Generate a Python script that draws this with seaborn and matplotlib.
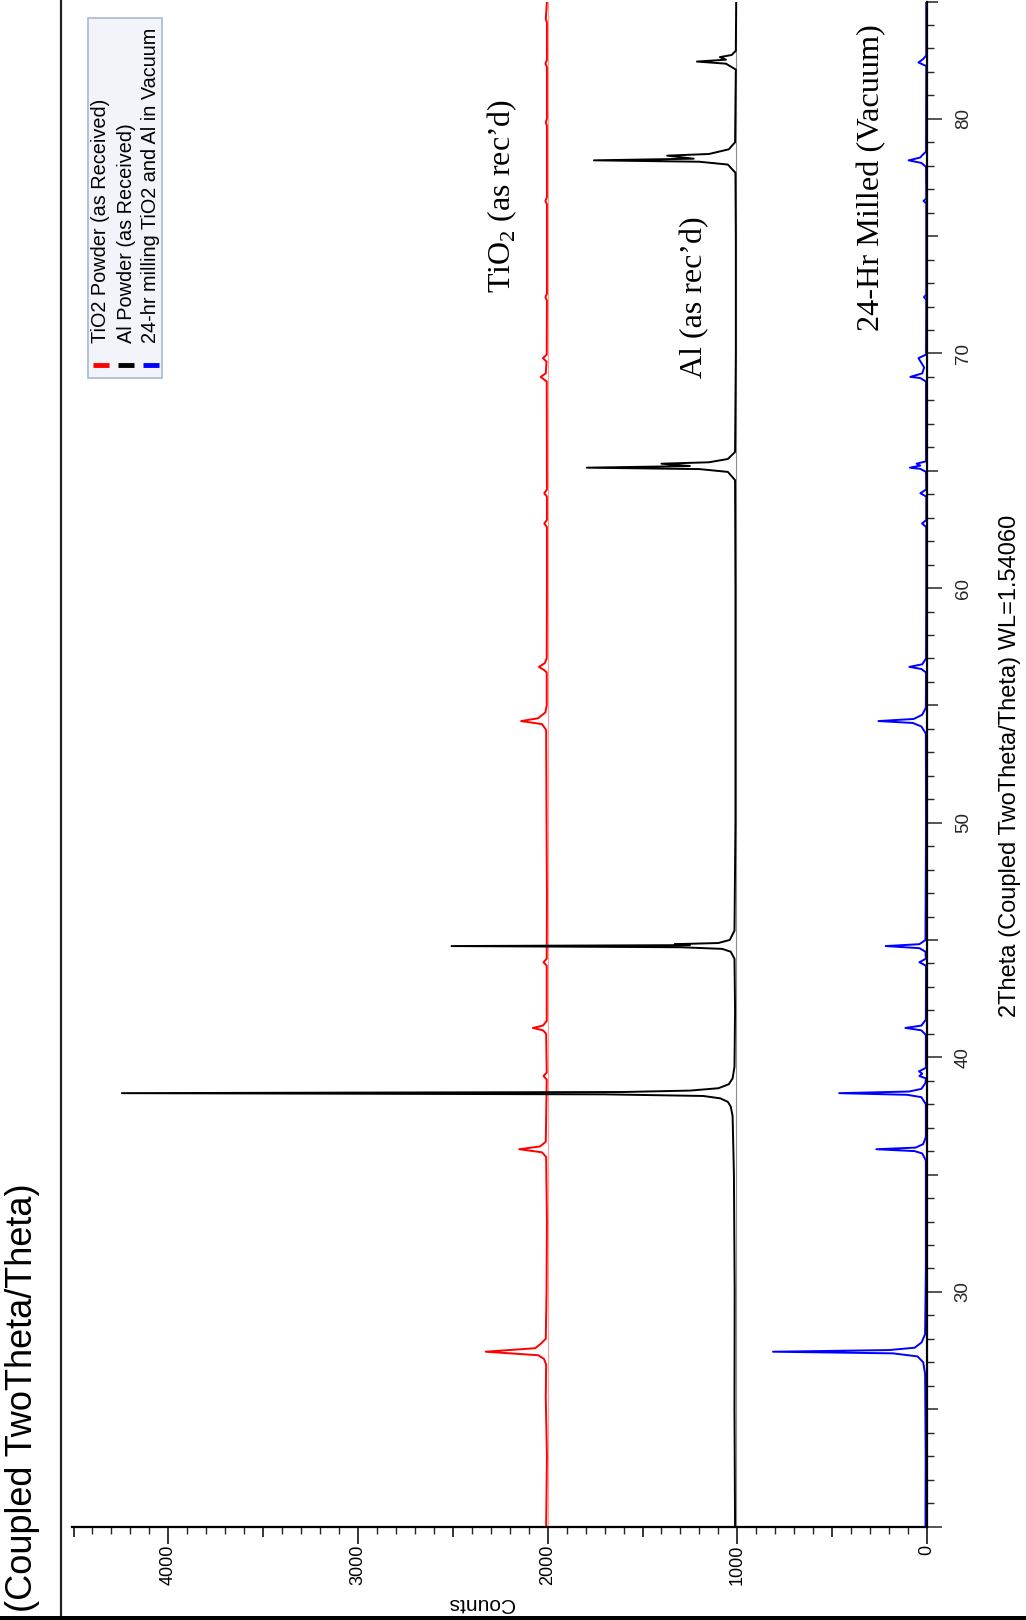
import numpy as np
import pandas as pd
import matplotlib
matplotlib.use("Agg")
import matplotlib.pyplot as plt
import seaborn as sns
from matplotlib.ticker import MultipleLocator, FuncFormatter
from matplotlib.lines import Line2D
from matplotlib.patches import Rectangle

# ---------------- data ----------------
tio2_theta = [20.0, 23.0, 25.5, 26.9, 27.15, 27.3, 27.45, 27.6, 27.8, 28.0, 30.0, 33.0,
              35.75, 35.95, 36.08, 36.2, 36.4, 39.05, 39.2, 39.35, 41.0, 41.15, 41.25, 41.35,
              41.55, 43.9, 44.05, 44.2, 47.0, 50.0, 53.95, 54.2, 54.33, 54.45, 54.7, 55.0,
              56.4, 56.5, 56.64, 56.8, 57.0, 60.0, 62.6, 62.75, 62.9, 63.9, 64.04, 64.2,
              68.8, 69.0, 69.15, 69.4, 69.65, 69.8, 69.95, 72.25, 72.4, 72.55, 76.35, 76.5,
              76.65, 79.7, 79.85, 80.0, 82.2, 82.35, 82.5, 84.1, 84.25, 85.0]
tio2_counts = [2008, 2004, 2010, 2008, 2020, 2050, 2327, 2065, 2035, 2010, 2006, 2004,
               2008, 2030, 2150, 2040, 2010, 2005, 2022, 2005, 2008, 2025, 2078, 2025,
               2005, 2005, 2022, 2005, 2004, 2006, 2008, 2030, 2140, 2050, 2012, 2005,
               2005, 2018, 2046, 2015, 2005, 2004, 2004, 2018, 2004, 2004, 2018, 2004,
               2005, 2037, 2010, 2008, 2006, 2025, 2005, 2004, 2012, 2004, 2004, 2012,
               2004, 2004, 2010, 2004, 2004, 2012, 2004, 2004, 2010, 2004]

al_theta = [20.0, 25.0, 30.0, 35.0, 37.5, 37.9, 38.1, 38.25, 38.35, 38.42, 38.47, 38.52,
            38.58, 38.68, 38.85, 39.1, 39.6, 42.0, 44.2, 44.5, 44.62, 44.69, 44.74, 44.78,
            44.82, 44.87, 45.0, 45.4, 50.0, 55.0, 60.0, 64.6, 64.95, 65.07, 65.13, 65.2,
            65.3, 65.36, 65.5, 65.8, 70.0, 75.0, 77.7, 78.05, 78.17, 78.23, 78.3, 78.43,
            78.5, 78.7, 79.0, 82.1, 82.35, 82.44, 82.52, 82.63, 82.72, 82.9, 85.0]
al_counts = [1012, 1015, 1014, 1018, 1025, 1035, 1050, 1090, 1180, 1700, 4245, 1600,
             1250, 1100, 1045, 1025, 1015, 1012, 1015, 1035, 1080, 1300, 2507, 1250,
             1330, 1100, 1040, 1015, 1010, 1010, 1010, 1012, 1050, 1200, 1793, 1250,
             1400, 1150, 1050, 1012, 1008, 1008, 1010, 1050, 1200, 1756, 1230, 1370,
             1150, 1045, 1012, 1008, 1060, 1213, 1060, 1092, 1030, 1008, 1006]

mill_theta = [20.0, 23.0, 26.5, 27.0, 27.25, 27.38, 27.45, 27.52, 27.62, 27.85, 28.2, 31.0,
              35.6, 35.9, 36.0, 36.08, 36.15, 36.3, 36.6, 38.0, 38.3, 38.4, 38.47, 38.54,
              38.65, 38.9, 39.1, 39.2, 39.3, 39.4, 39.55, 40.95, 41.15, 41.25, 41.35, 41.6,
              43.9, 44.05, 44.2, 44.5, 44.65, 44.74, 44.82, 45.0, 50.0, 53.8, 54.1, 54.25,
              54.33, 54.42, 54.6, 54.9, 56.4, 56.55, 56.64, 56.75, 57.0, 60.0, 62.6, 62.75,
              62.9, 63.9, 64.04, 64.2, 64.95, 65.08, 65.13, 65.22, 65.3, 65.4, 68.8, 68.95,
              69.0, 69.15, 69.4, 69.8, 69.95, 72.3, 72.4, 72.5, 76.4, 76.5, 76.6, 77.95,
              78.12, 78.23, 78.35, 78.45, 78.6, 82.25, 82.4, 82.55, 82.7, 85.0]
mill_counts = [8, 7, 10, 20, 50, 180, 812, 200, 65, 28, 10, 6,
               6, 25, 65, 267, 60, 20, 6, 6, 30, 105, 463, 95,
               30, 8, 6, 40, 25, 42, 6, 6, 30, 114, 30, 6,
               5, 40, 6, 8, 40, 218, 40, 8, 5, 6, 30, 75,
               256, 70, 25, 6, 5, 30, 93, 25, 5, 4, 4, 26,
               4, 4, 35, 4, 5, 35, 90, 35, 55, 5, 5, 35,
               88, 25, 15, 45, 5, 4, 16, 4, 4, 18, 4, 5,
               30, 97, 35, 25, 5, 4, 45, 20, 4, 4]

bg_theta = [20.0, 85.0]
tio2_bg = [2000, 2000]
al_bg = [1005, 1005]
mill_bg = [0, 0]

series_names = ["TiO2 Powder (as Received)", "Al Powder (as Received)",
                "24-hr milling TiO2 and Al in Vacuum"]
series_colors = ["#ff0000", "#000000", "#0000ff"]
bg_colors = ["#ff9c9c", "#8c8c8c", "#8c8cff"]

# ---------------- figure ----------------
sns.set_theme(style="white")
plt.rcParams["font.family"] = ["Liberation Sans", "DejaVu Sans"]
plt.rcParams["mathtext.fontset"] = "custom"
plt.rcParams["mathtext.rm"] = "Liberation Serif"

W, H = 1026, 1620
fig = plt.figure(figsize=(W / 100, H / 100), dpi=100)
fig.patch.set_facecolor("white")


def fx(px):
    return px / W


def fy(py):
    return 1 - py / H


ax = fig.add_axes([fx(72), fy(1526.5), fx(927) - fx(72), fy(1.5) - fy(1526.5)])
ax.set_facecolor("white")

frames = [
    (tio2_theta, tio2_counts, tio2_bg),
    (al_theta, al_counts, al_bg),
    (mill_theta, mill_counts, mill_bg),
]
for (th, ct, bg), col, bcol in zip(frames, series_colors, bg_colors):
    dbg = pd.DataFrame({"theta": bg_theta, "counts": bg})
    sns.lineplot(data=dbg, x="counts", y="theta", sort=False, estimator=None,
                 orient="y", color=bcol, linewidth=0.8, ax=ax)
for (th, ct, bg), col in zip(frames, series_colors):
    d = pd.DataFrame({"theta": th, "counts": ct})
    sns.lineplot(data=d, x="counts", y="theta", sort=False, estimator=None,
                 orient="y", color=col, linewidth=1.4, ax=ax)

ax.set_xlim(4508, 0)
ax.set_ylim(20, 85)
ax.set_xlabel("")
ax.set_ylabel("")
for s in ["left", "top"]:
    ax.spines[s].set_visible(False)
for s in ["right", "bottom"]:
    ax.spines[s].set_linewidth(1.6)
    ax.spines[s].set_color("black")

ax.yaxis.tick_right()
ax.xaxis.set_major_locator(MultipleLocator(500))
ax.xaxis.set_minor_locator(MultipleLocator(100))
ax.xaxis.set_major_formatter(FuncFormatter(lambda v, p: f"{int(round(v))}" if round(v) % 1000 == 0 else ""))
ax.yaxis.set_major_locator(MultipleLocator(5))
ax.yaxis.set_minor_locator(MultipleLocator(1))
ax.yaxis.set_major_formatter(FuncFormatter(
    lambda v, p: f"{int(round(v))}" if (round(v) % 10 == 0 and 30 <= round(v) <= 80) else ""))

ax.tick_params(axis="x", which="major", direction="out", length=12, width=1.1,
               labelsize=13, labelrotation=90, pad=1, bottom=True, colors="black")
ax.tick_params(axis="x", which="minor", direction="out", length=5, width=1.0, bottom=True)
ax.tick_params(axis="y", which="major", direction="out", length=11, width=1.1,
               labelsize=13.5, labelrotation=90, pad=9, right=True, left=False)
ax.tick_params(axis="y", which="minor", direction="out", length=5, width=1.0, right=True, left=False)

fig.canvas.draw()
for t, v in zip(ax.xaxis.get_major_ticks(), ax.xaxis.get_majorticklocs()):
    if round(v) % 1000 != 0:
        t.tick1line.set_markersize(7.5)
for t, v in zip(ax.yaxis.get_major_ticks(), ax.yaxis.get_majorticklocs()):
    if round(v) % 10 != 0:
        t.tick2line.set_markersize(8)
for lab in ax.get_yticklabels():
    lab.set_va("center")
    lab.set_ha("left")

# ---------------- texts ----------------
fig.text(fx(23), fy(1398), "(Coupled TwoTheta/Theta)", rotation=90, ha="center", va="center",
         fontsize=26, color="black")
fig.text(fx(1010), fy(766), "2Theta (Coupled TwoTheta/Theta) WL=1.54060", rotation=90,
         ha="center", va="center", fontsize=17, color="black")
fig.text(fx(481), fy(1604), "Counts", rotation=180, ha="center", va="center",
         fontsize=15, color="black")

serif = ["Liberation Serif", "DejaVu Serif"]
fig.text(fx(502), fy(196), r"TiO$_{\rm 2}$ (as rec’d)", rotation=90, ha="center", va="center",
         fontsize=23, family=serif, color="black")
fig.text(fx(695), fy(297), "Al (as rec’d)", rotation=90, ha="center", va="center",
         fontsize=23, family=serif, color="black")
fig.text(fx(872), fy(178), "24-Hr Milled (Vacuum)", rotation=90, ha="center", va="center",
         fontsize=23.3, family=serif, color="black")

# ---------------- legend (drawn rotated, like the reference) ----------------
fig.add_artist(Rectangle((fx(88), fy(378)), fx(162) - fx(88), fy(18) - fy(378),
                         transform=fig.transFigure, facecolor="#f1f4f9",
                         edgecolor="#a9b9cf", linewidth=1.2))
leg_x = [101, 126, 151]
for name, col, lx in zip(series_names, series_colors, leg_x):
    fig.text(fx(lx), fy(343), name, rotation=90, ha="center", va="bottom",
             fontsize=14.3, color="black")
    fig.add_artist(Line2D([fx(lx - 8), fx(lx + 8)], [fy(365), fy(365)],
                          transform=fig.transFigure, color=col, linewidth=3.5,
                          solid_capstyle="butt"))

# ---------------- outer frame lines ----------------
fig.add_artist(Line2D([fx(61), fx(61)], [fy(0), fy(1616)], transform=fig.transFigure,
                      color="#222222", linewidth=1.6))
fig.add_artist(Line2D([0, 1], [fy(1617.5), fy(1617.5)], transform=fig.transFigure,
                      color="black", linewidth=3.6))

fig.savefig("out.png", dpi=100, facecolor="white")
